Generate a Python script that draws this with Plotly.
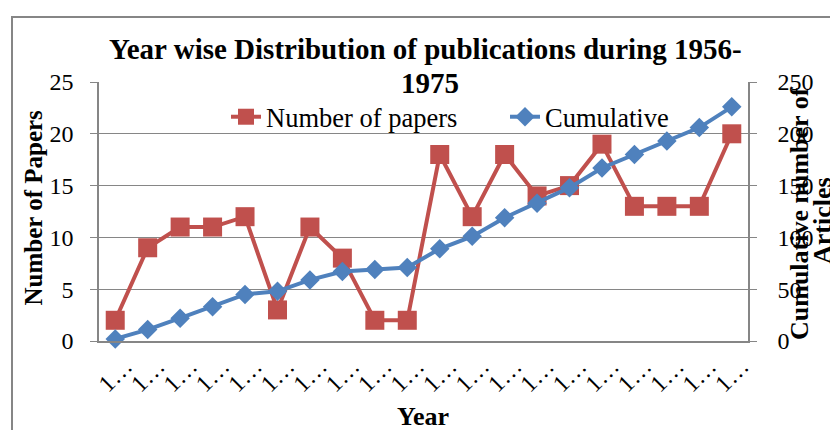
import plotly.graph_objects as go

years = ["1956", "1957", "1958", "1959", "1960", "1961", "1962", "1963", "1964", "1965",
         "1966", "1967", "1968", "1969", "1970", "1971", "1972", "1973", "1974", "1975"]
papers = [2, 9, 11, 11, 12, 3, 11, 8, 2, 2, 18, 12, 18, 14, 15, 19, 13, 13, 13, 20]
cumulative = [2, 11, 22, 33, 45, 48, 59, 67, 69, 71, 89, 101, 119, 133, 148, 167, 180, 193, 206, 226]
tick_labels = ["1…", "1…", "1…", "1…", "1…", "1…", "1…", "1…", "1…", "1…",
               "1…", "1…", "1…", "1…", "1…", "1…", "1…", "1…", "1…", "1…"]

FONT = "Times New Roman, Liberation Serif, serif"
GRID = "#868686"
RED = "#C0504D"
BLUE = "#4F81BD"

# page has an 8px body margin; figure is sized so that it fills the 838x430 window
OFF = 8
W, H = 838 - OFF, 430 - OFF
# plot area in window pixels
L, R, T, B = 99, 748, 82, 341
PW, PH = R - L, B - T


def px(x):
    return (x - L) / PW


def py(y):
    return (B - y) / PH


fig = go.Figure()
fig.add_trace(go.Scatter(
    x=years, y=papers, name="Number of papers", mode="lines+markers",
    line=dict(color=RED, width=4),
    marker=dict(symbol="square", size=19, color=RED),
    cliponaxis=False,
))
fig.add_trace(go.Scatter(
    x=years, y=cumulative, name="Cumulative", mode="lines+markers", yaxis="y2",
    line=dict(color=BLUE, width=4),
    marker=dict(symbol="diamond", size=15, color=BLUE),
    cliponaxis=False,
))

fig.update_layout(
    width=W, height=H,
    margin=dict(l=L - OFF, r=W - (R - OFF), t=T - OFF, b=H - (B - OFF), autoexpand=False),
    paper_bgcolor="white", plot_bgcolor="white",
    font=dict(family=FONT, color="black"),
    xaxis=dict(
        type="category", tickvals=years, ticktext=tick_labels, tickangle=-45,
        range=[-0.5, 19.5], showgrid=False, showline=True, linecolor=GRID, linewidth=1.5,
        ticks="", tickfont=dict(family=FONT, size=24, color="black"),
        zeroline=False, automargin=False, ticklabelshift=10,
    ),
    yaxis=dict(
        range=[0, 25], dtick=5, showgrid=True, gridcolor=GRID, gridwidth=1,
        showline=True, linecolor=GRID, linewidth=1.5,
        ticks="outside", ticklen=7, tickcolor=GRID,
        tickfont=dict(family=FONT, size=24, color="black"), zeroline=False,
        automargin=False, ticklabelstandoff=12,
    ),
    yaxis2=dict(
        overlaying="y", side="right", range=[0, 250], dtick=50, showgrid=False,
        showline=True, linecolor=GRID, linewidth=1.5,
        ticks="outside", ticklen=7, tickcolor=GRID,
        tickfont=dict(family=FONT, size=24, color="black"), zeroline=False,
        automargin=False, ticklabelstandoff=16,
    ),
    legend=dict(
        orientation="h", x=px(226), y=py(117), xanchor="left", yanchor="middle",
        font=dict(family=FONT, size=26.5, color="black"), bgcolor="rgba(0,0,0,0)",
        entrywidth=234, entrywidthmode="pixels",
    ),
    showlegend=True,
    annotations=[
        dict(text="<b>Year wise Distribution of publications during 1956-</b>",
             xref="paper", yref="paper", x=px(425), y=py(49), showarrow=False,
             xanchor="center", yanchor="middle", font=dict(family=FONT, size=29, color="black")),
        dict(text="<b>1975</b>",
             xref="paper", yref="paper", x=px(430), y=py(83), showarrow=False,
             xanchor="center", yanchor="middle", font=dict(family=FONT, size=29, color="black")),
        dict(text="<b>Number of Papers</b>", textangle=-90, xref="paper", yref="paper",
             x=px(32.5), y=py(208), showarrow=False,
             xanchor="center", yanchor="middle", font=dict(family=FONT, size=25, color="black")),
        dict(text="<b>Cumulative number of</b>", textangle=-90, xref="paper", yref="paper",
             x=px(799), y=py(214), showarrow=False,
             xanchor="center", yanchor="middle", font=dict(family=FONT, size=26, color="black")),
        dict(text="<b>Articles</b>", textangle=-90, xref="paper", yref="paper",
             x=px(822), y=py(221), showarrow=False,
             xanchor="center", yanchor="middle", font=dict(family=FONT, size=26, color="black")),
        dict(text="<b>Year</b>", xref="paper", yref="paper",
             x=px(423), y=py(416), showarrow=False,
             xanchor="center", yanchor="middle", font=dict(family=FONT, size=26, color="black")),
    ],
    shapes=[
        dict(type="rect", xref="paper", yref="paper",
             x0=px(12), x1=px(900), y0=py(480), y1=py(17),
             line=dict(color=GRID, width=2), fillcolor="rgba(0,0,0,0)", layer="below"),
    ],
)

fig.write_html("out.html")
